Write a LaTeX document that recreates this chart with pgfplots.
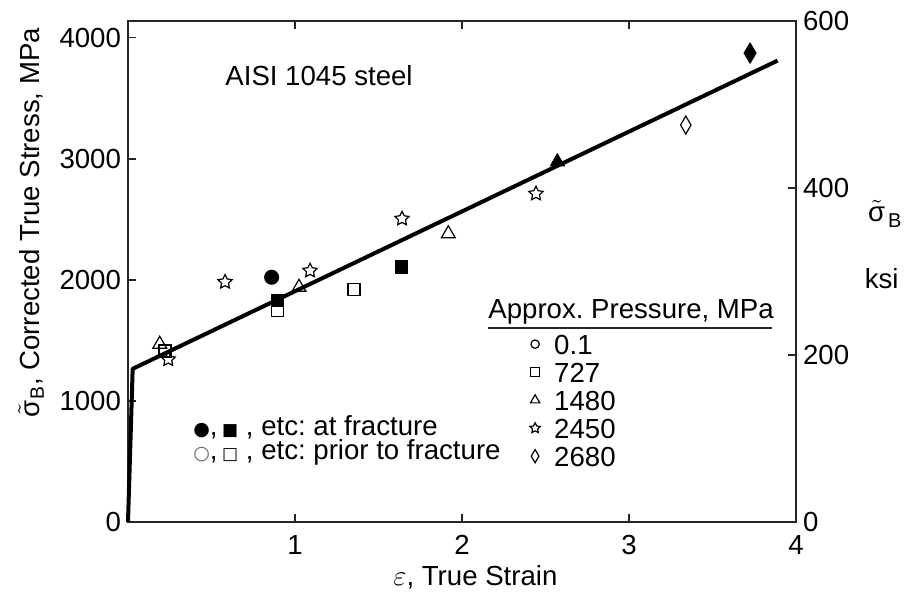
\documentclass[border=0pt]{standalone}
\usepackage{pgfplots}
\pgfplotsset{compat=1.18}
\usepackage{fontspec}
\setmainfont{Liberation Sans}
\newfontfamily\symfont{DejaVu Sans}
\frenchspacing

\newcommand{\lab}{\fontsize{13.8}{16}\selectfont}
\newcommand{\sigB}{\ensuremath{\tilde{\hbox{σ}}}\kern0.5pt\textsubscript{B}}

% five-pointed outline star
\pgfdeclareplotmark{ostar}{%
  \pgfpathmoveto{\pgfpointpolar{90}{\pgfplotmarksize}}%
  \pgfpathlineto{\pgfpointpolar{126}{0.5\pgfplotmarksize}}%
  \pgfpathlineto{\pgfpointpolar{162}{\pgfplotmarksize}}%
  \pgfpathlineto{\pgfpointpolar{198}{0.5\pgfplotmarksize}}%
  \pgfpathlineto{\pgfpointpolar{234}{\pgfplotmarksize}}%
  \pgfpathlineto{\pgfpointpolar{270}{0.5\pgfplotmarksize}}%
  \pgfpathlineto{\pgfpointpolar{306}{\pgfplotmarksize}}%
  \pgfpathlineto{\pgfpointpolar{342}{0.5\pgfplotmarksize}}%
  \pgfpathlineto{\pgfpointpolar{18}{\pgfplotmarksize}}%
  \pgfpathlineto{\pgfpointpolar{54}{0.5\pgfplotmarksize}}%
  \pgfpathclose
  \pgfusepathqstroke}
% slim diamonds, open and filled
\pgfdeclareplotmark{tdiamond}{%
  \pgfpathmoveto{\pgfqpoint{0pt}{\pgfplotmarksize}}%
  \pgfpathlineto{\pgfqpoint{.58\pgfplotmarksize}{0pt}}%
  \pgfpathlineto{\pgfqpoint{0pt}{-\pgfplotmarksize}}%
  \pgfpathlineto{\pgfqpoint{-.58\pgfplotmarksize}{0pt}}%
  \pgfpathclose
  \pgfusepathqstroke}
\pgfdeclareplotmark{tdiamond*}{%
  \pgfpathmoveto{\pgfqpoint{0pt}{\pgfplotmarksize}}%
  \pgfpathlineto{\pgfqpoint{.6\pgfplotmarksize}{0pt}}%
  \pgfpathlineto{\pgfqpoint{0pt}{-\pgfplotmarksize}}%
  \pgfpathlineto{\pgfqpoint{-.6\pgfplotmarksize}{0pt}}%
  \pgfpathclose
  \pgfusepathqfillstroke}

\pgfplotsset{
  common/.style={
    scale only axis, width=334pt, height=250.5pt,
    xmin=0, xmax=4,
    tick align=inside, major tick length=4pt,
    axis line style={line width=0.9pt, black!85},
    every tick/.style={black!85, line width=0.9pt},
    tick label style={font=\lab, black},
    /pgf/number format/assume math mode=true,
    /pgf/number format/1000 sep={},
  },
  openmk/.style={only marks, black, line width=0.6pt, mark options={solid, fill=white}},
  fillmk/.style={only marks, black, line width=0.5pt, mark options={solid, fill=black}},
}

\begin{document}
\begin{tikzpicture}
% right-hand scale in ksi
\begin{axis}[common,
  ymin=0, ymax=600,
  axis x line=none, axis y line*=right,
  ytick={0,200,400,600},
]
\addplot[draw=none] coordinates {(0,0)};
\end{axis}

\begin{axis}[common,
  name=main,
  ymin=0, ymax=4136.85,
  xtick={0,1,2,3,4}, xticklabels={,1,2,3,4},
  ytick={0,1000,2000,3000,4000},
  xtick pos=both, xticklabel pos=lower, ytick pos=left,
  scaled y ticks=false,
  x tick label style={yshift=-3pt},
  clip=false,
  xlabel={$\varepsilon$, True Strain},
  xlabel style={font=\lab, at={(axis description cs:0.52,0)}, anchor=north, yshift=-18pt},
  ylabel={\sigB, Corrected True Stress, MPa},
  ylabel style={font=\lab, at={(axis description cs:-0.145,0.597)}, anchor=center},
  legend cell align=left,
  legend style={draw=none, fill=none, font=\lab,
    at={(axis cs:2.407,1584)}, anchor=north west,
    inner sep=0pt, outer sep=0pt, row sep=0pt,
    nodes={inner sep=2pt, text height=10pt, text depth=0pt},
    /tikz/every odd column/.append style={column sep=5pt}},
]
% fitted flow curve
\addplot[black, line width=2pt, line join=round, forget plot]
  coordinates {(0,0) (0.028,1265) (3.89,3810)};

% at fracture (filled)
\addplot[fillmk, mark=*, mark size=3.5pt, forget plot] coordinates {(0.860,2021)};
\addplot[fillmk, mark=square*, mark size=3.1pt, forget plot] coordinates {(0.894,1827) (1.639,2104)};
\addplot[fillmk, mark=triangle*, mark size=4pt, forget plot] coordinates {(2.571,2974)};
\addplot[fillmk, mark=tdiamond*, mark size=5pt, forget plot] coordinates {(3.725,3872)};

% prior to fracture (open)
\addplot[openmk, mark=square, mark size=3pt, forget plot]
  coordinates {(0.894,1744) (1.353,1918) (0.222,1412)};
\addplot[openmk, mark=triangle, mark size=4pt, forget plot]
  coordinates {(1.024,1938) (1.918,2380) (0.19,1468)};
\addplot[openmk, mark=ostar, mark size=3.7pt, forget plot]
  coordinates {(0.581,1982) (1.090,2075) (1.641,2504) (2.443,2711) (0.241,1343)};
\addplot[openmk, mark=tdiamond, mark size=4.5pt, forget plot]
  coordinates {(3.34,3278)};

% pressure key
\addlegendimage{openmk, mark=o, mark size=2.1pt}
\addlegendentry{0.1}
\addlegendimage{openmk, mark=square, mark size=2.3pt}
\addlegendentry{727}
\addlegendimage{openmk, mark=triangle, mark size=2.7pt}
\addlegendentry{1480}
\addlegendimage{openmk, mark=ostar, mark size=2.7pt}
\addlegendentry{2450}
\addlegendimage{openmk, mark=tdiamond, mark size=3.3pt}
\addlegendentry{2680}

\node[font=\lab, anchor=base west, inner sep=0pt] at (axis cs:2.156,1683) {Approx. Pressure, MPa};
\draw[line width=0.8pt, black!85] (axis cs:2.156,1600) -- (axis cs:3.856,1600);

\node[font=\lab, anchor=base west, inner sep=0pt] at (axis cs:0.581,3607) {AISI 1045 steel};

\node[font=\lab, anchor=base west, inner sep=0pt] at (axis cs:0.389,716)
  {{\symfont\fontsize{9.5}{9.5}\selectfont ●},\,{\symfont\fontsize{8.5}{8.5}\selectfont ■} , etc: at fracture};
\node[font=\lab, anchor=base west, inner sep=0pt] at (axis cs:0.389,512)
  {{\symfont\fontsize{9.5}{9.5}\selectfont\color{black!60}○},\,{\symfont\fontsize{8.5}{8.5}\selectfont □} , etc: prior to fracture};

% right-hand axis title: symbol and unit
\node[font=\lab, anchor=west, inner sep=0pt] at (axis cs:4.43,2546)
  {\ensuremath{\tilde{\hbox{σ}}}\kern1.5pt\raisebox{-3pt}{\fontsize{10}{10}\selectfont B}};
\node[font=\lab, anchor=west, inner sep=0pt] at (axis cs:4.41,2007) {ksi};
\end{axis}

\pgfresetboundingbox
\path (-64pt,-36.5pt) rectangle (388pt,261pt);
\end{tikzpicture}
\end{document}
